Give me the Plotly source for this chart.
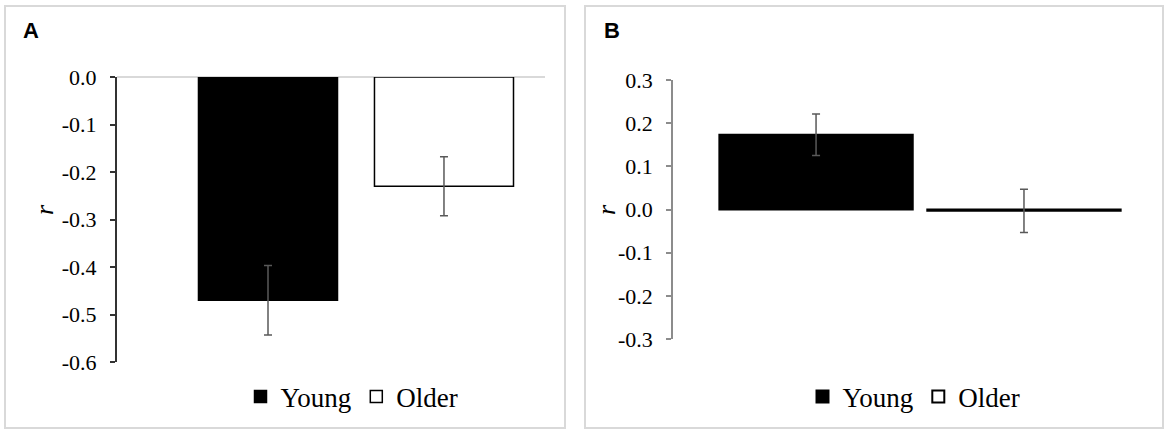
import plotly.graph_objects as go

# panel A
groups = ["Young", "Older"]
a_r = [-0.47, -0.23]
a_err = [0.073, 0.062]
a_ticks = [0.0, -0.1, -0.2, -0.3, -0.4, -0.5, -0.6]
a_ticktext = ["0.0", "-0.1", "-0.2", "-0.3", "-0.4", "-0.5", "-0.6"]

# panel B
b_r = [0.173, -0.003]
b_err = [0.048, 0.05]
b_ticks = [0.3, 0.2, 0.1, 0.0, -0.1, -0.2, -0.3]
b_ticktext = ["0.3", "0.2", "0.1", "0.0", "-0.1", "-0.2", "-0.3"]

W, H = 1170, 434
fills = ["black", "white"]
serif = "Liberation Serif, Times New Roman, serif"


def px(x):
    return x / W


def py(y):
    return 1 - y / H


fig = go.Figure()

for i, g in enumerate(groups):
    fig.add_trace(go.Bar(
        x=[i], y=[a_r[i]], name=g, width=0.79,
        marker=dict(color=fills[i], line=dict(color="black", width=1.5)),
        error_y=dict(type="data", array=[a_err[i]], color="#595959", thickness=1.5, width=4),
        xaxis="x", yaxis="y", legend="legend",
    ))
for i, g in enumerate(groups):
    fig.add_trace(go.Bar(
        x=[i], y=[b_r[i]], name=g, width=0.93,
        marker=dict(color=fills[i], line=dict(color="black", width=2)),
        error_y=dict(type="data", array=[b_err[i]], color="#595959", thickness=1.5, width=4),
        xaxis="x2", yaxis="y2", legend="legend2",
    ))

yax_common = dict(
    showgrid=False, showline=True, ticks="outside", ticklen=5,
    tickfont=dict(family=serif, size=22, color="black"),
    ticklabelstandoff=9, automargin=False,
)

fig.update_layout(
    width=W, height=H,
    margin=dict(l=0, r=0, t=0, b=0, pad=0, autoexpand=False),
    plot_bgcolor="white", paper_bgcolor="white",
    barmode="overlay",
    xaxis=dict(domain=[px(117), px(545)], range=[-0.858, 1.574], visible=False, anchor="y"),
    yaxis=dict(domain=[py(362), py(77)], range=[-0.6, 0.0], anchor="x",
               tickvals=a_ticks, ticktext=a_ticktext,
               linecolor="#333333", linewidth=2, tickcolor="#333333", tickwidth=1.5,
               zeroline=True, zerolinecolor="#d9d9d9", zerolinewidth=1.5,
               **yax_common),
    xaxis2=dict(domain=[px(673), px(1140)], range=[-0.688, 1.558], visible=False, anchor="y2"),
    yaxis2=dict(domain=[py(339), py(80)], range=[-0.3, 0.3], anchor="x2",
                tickvals=b_ticks, ticktext=b_ticktext,
                linecolor="#8c8c8c", linewidth=1.5, tickcolor="#8c8c8c", tickwidth=1.5,
                zeroline=False,
                **yax_common),
    legend=dict(orientation="h", x=px(352), xanchor="center", y=py(397), yanchor="middle",
                font=dict(family=serif, size=27, color="black"), bgcolor="rgba(0,0,0,0)"),
    legend2=dict(orientation="h", x=px(914), xanchor="center", y=py(397), yanchor="middle",
                 font=dict(family=serif, size=27, color="black"), bgcolor="rgba(0,0,0,0)"),
    showlegend=True,
)

# panel frames
for x0, x1 in [(5, 565), (585, 1163)]:
    fig.add_shape(type="rect", xref="paper", yref="paper",
                  x0=px(x0), x1=px(x1), y0=py(428), y1=py(6),
                  line=dict(color="#d9d9d9", width=2), fillcolor="rgba(0,0,0,0)", layer="below")

# panel letters
for lab, x in [("A", 21), ("B", 602)]:
    fig.add_annotation(text="<b>%s</b>" % lab, xref="paper", yref="paper",
                       x=px(x), y=py(30), xanchor="left", yanchor="middle", showarrow=False,
                       font=dict(family="Liberation Sans, Arial, sans-serif", size=22, color="black"))

# axis titles
for x in [44, 606]:
    fig.add_annotation(text="<i>r</i>", xref="paper", yref="paper",
                       x=px(x), y=py(210), xanchor="center", yanchor="middle", showarrow=False,
                       textangle=-90,
                       font=dict(family=serif, size=26, color="black"))

# page body has a default 8px margin; drop it so the figure sits at 0,0
fig.write_html("out.html", config={"displayModeBar": False},
               post_script="document.body.style.margin='0';")
